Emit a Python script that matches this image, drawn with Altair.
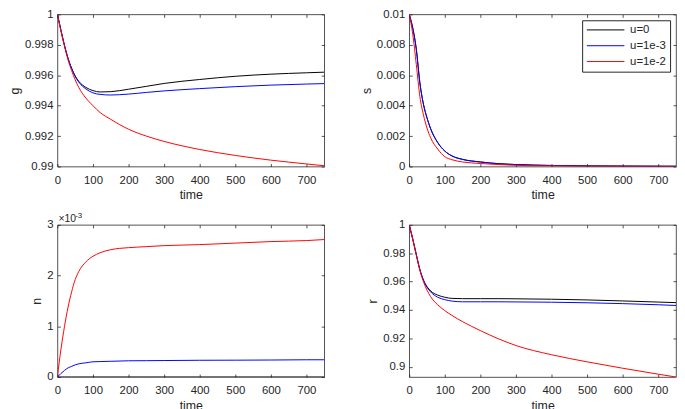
import altair as alt
import pandas as pd

# time samples
time = [0, 10, 20, 30, 40, 50, 60, 80, 100, 120, 150, 200, 250, 300, 400, 500, 600, 700, 750]
series_names = ["u=0", "u=1e-3", "u=1e-2"]
series_colors = ["#000000", "#0000ff", "#ff0000"]

g_u0 = [1.0, 0.99895, 0.99795, 0.9971, 0.99645, 0.99595, 0.9956, 0.9952, 0.99499, 0.9949,
        0.99492, 0.99508, 0.99527, 0.99546, 0.99572, 0.99593, 0.99607, 0.99616, 0.9962]
g_u1 = [1.0, 0.99895, 0.99795, 0.9971, 0.99645, 0.99592, 0.99555, 0.9951, 0.99484, 0.99474,
        0.9947, 0.99476, 0.99487, 0.99497, 0.99512, 0.99525, 0.99535, 0.99542, 0.99545]
g_u2 = [1.0, 0.9989, 0.9979, 0.997, 0.9963, 0.9957, 0.9952, 0.9945, 0.994, 0.99355,
        0.9931, 0.99245, 0.992, 0.99165, 0.99112, 0.99073, 0.99042, 0.99017, 0.99005]

s_u0 = [0.01, 0.0091, 0.0077, 0.0055, 0.0041, 0.0032, 0.0025, 0.00158, 0.00102, 0.0007,
        0.00047, 0.0003, 0.00019, 0.00013, 0.00007, 0.00004, 0.00003, 0.00002, 0.00002]
s_u1 = [0.01, 0.0091, 0.0077, 0.0055, 0.0041, 0.0032, 0.0025, 0.00158, 0.00102, 0.0007,
        0.00047, 0.0003, 0.00019, 0.00013, 0.00007, 0.00004, 0.00003, 0.00002, 0.00002]
s_u2 = [0.01, 0.0087, 0.0067, 0.0046, 0.0034, 0.00253, 0.0019, 0.00115, 0.00065, 0.00045,
        0.0003, 0.0002, 0.00013, 0.00008, 0.00004, 0.00002, 0.00001, 0.00001, 0.0]

# n is given in units of 1e-3
n_u0 = [0.0] * len(time)
n_u1 = [0.0, 0.07, 0.13, 0.18, 0.21, 0.24, 0.26, 0.28, 0.3, 0.305,
        0.31, 0.32, 0.322, 0.325, 0.33, 0.332, 0.335, 0.34, 0.34]
n_u2 = [0.0, 0.55, 1.0, 1.38, 1.68, 1.92, 2.08, 2.27, 2.38, 2.45,
        2.51, 2.55, 2.57, 2.59, 2.61, 2.64, 2.67, 2.69, 2.71]

r_u0 = [1.0, 0.99, 0.979, 0.9685, 0.9612, 0.9565, 0.9535, 0.9505, 0.949, 0.9482,
        0.948, 0.948, 0.948, 0.9479, 0.9476, 0.9471, 0.9464, 0.9456, 0.9452]
r_u1 = [1.0, 0.99, 0.979, 0.9685, 0.961, 0.956, 0.9528, 0.949, 0.9473, 0.9463,
        0.9458, 0.9458, 0.9458, 0.9457, 0.9455, 0.9451, 0.9445, 0.9437, 0.9432]
r_u2 = [1.0, 0.9898, 0.9785, 0.968, 0.96, 0.954, 0.9495, 0.9437, 0.9396, 0.9362,
        0.9318, 0.9255, 0.9198, 0.915, 0.9085, 0.9035, 0.899, 0.8948, 0.8928]

x_ticks = [0, 100, 200, 300, 400, 500, 600, 700]

AXIS_COLOR = "#262626"
FONT = "Liberation Sans"
W, H = 270, 154


def long_frame(*series):
    rows = []
    for name, values in zip(series_names, series):
        rows += [{"time": t, "value": v, "series": name} for t, v in zip(time, values)]
    return pd.DataFrame(rows)


def label_axis(orient, values, fmt, title, label_pad, title_pad):
    return alt.Axis(
        orient=orient, values=values, format=fmt, title=title,
        ticks=False, domain=False, grid=True, gridDash=[3, 2000],
        gridColor=AXIS_COLOR, gridWidth=0.8, gridOpacity=1,
        labelPadding=label_pad, titlePadding=title_pad, minExtent=0,
        labelFlush=False, labelOverlap=False,
        labelFontSize=11.5, titleFontSize=12.5, titleFontWeight="normal",
        labelColor=AXIS_COLOR, titleColor=AXIS_COLOR,
    )


def tick_axis(orient, values):
    return alt.Axis(
        orient=orient, values=values, title=None, labels=False,
        ticks=False, domain=False, grid=True, gridDash=[3, 2000],
        gridColor=AXIS_COLOR, gridWidth=0.8, gridOpacity=1,
        minExtent=0, maxExtent=0,
    )


def panel(df, y_title, y_domain, y_ticks, y_fmt, legend=None, extra=()):
    xs = alt.Scale(domain=[0, 750], nice=False, zero=False)
    ys = alt.Scale(domain=y_domain, nice=False, zero=False)
    lines = alt.Chart(df).mark_line(strokeWidth=1, clip=True, interpolate="monotone").encode(
        x=alt.X("time:Q", scale=xs, axis=label_axis("bottom", x_ticks, "d", "time", 8, 3)),
        y=alt.Y("value:Q", scale=ys, axis=label_axis("left", y_ticks, y_fmt, y_title, 4.5, 3)),
        color=alt.Color(
            "series:N",
            scale=alt.Scale(domain=series_names, range=series_colors),
            legend=legend,
        ),
    )
    mirror = alt.Chart(df).mark_line(opacity=0).encode(
        x=alt.X("time:Q", scale=xs, axis=tick_axis("top", x_ticks)),
        y=alt.Y("value:Q", scale=ys, axis=tick_axis("right", y_ticks)),
    )
    return (
        alt.layer(lines, mirror, *extra)
        .resolve_axis(x="independent", y="independent")
        .properties(width=W, height=H)
    )


legend = alt.Legend(
    title=None, orient="top-right", offset=6,
    fillColor="white", strokeColor=AXIS_COLOR, padding=4,
    symbolType="M-1,0L6.6,0", symbolSize=100, symbolStrokeWidth=1,
    labelOffset=33, rowPadding=3,
    labelFontSize=11.5, labelColor=AXIS_COLOR, labelFont=FONT,
)

exp_base = alt.Chart(pd.DataFrame({"t": ["\u00d710"]})).mark_text(
    align="left", baseline="alphabetic", fontSize=10.5, color=AXIS_COLOR
).encode(text="t:N", x=alt.value(1), y=alt.value(-2.5))
exp_power = alt.Chart(pd.DataFrame({"t": ["-3"]})).mark_text(
    align="left", baseline="alphabetic", fontSize=8, color=AXIS_COLOR
).encode(text="t:N", x=alt.value(18), y=alt.value(-7))

r_min = min(r_u0 + r_u1 + r_u2)

g_panel = panel(long_frame(g_u0, g_u1, g_u2), "g", [0.99, 1.0],
                [0.99, 0.992, 0.994, 0.996, 0.998, 1.0], ".4~f")
s_panel = panel(long_frame(s_u0, s_u1, s_u2), "s", [0, 0.01],
                [0, 0.002, 0.004, 0.006, 0.008, 0.01], ".4~f", legend=legend)
n_panel = panel(long_frame(n_u0, n_u1, n_u2), "n", [0, 3],
                [0, 1, 2, 3], "d", extra=(exp_base, exp_power))
r_panel = panel(long_frame(r_u0, r_u1, r_u2), "r", [r_min, 1.0],
                [0.9, 0.92, 0.94, 0.96, 0.98, 1.0], ".2~f")

chart = (
    alt.concat(g_panel, s_panel, n_panel, r_panel, columns=2,
               spacing={"row": 59, "column": 86}, bounds="flush")
    .resolve_scale(x="independent", y="independent", color="shared")
    .resolve_legend(color="independent")
    .properties(padding={"left": 0, "top": -3, "right": 0, "bottom": 0})
    .configure(font=FONT)
    .configure_view(stroke=AXIS_COLOR, strokeWidth=0.8)
)

chart.save("out.html", embed_options={"renderer": "svg", "actions": False})
